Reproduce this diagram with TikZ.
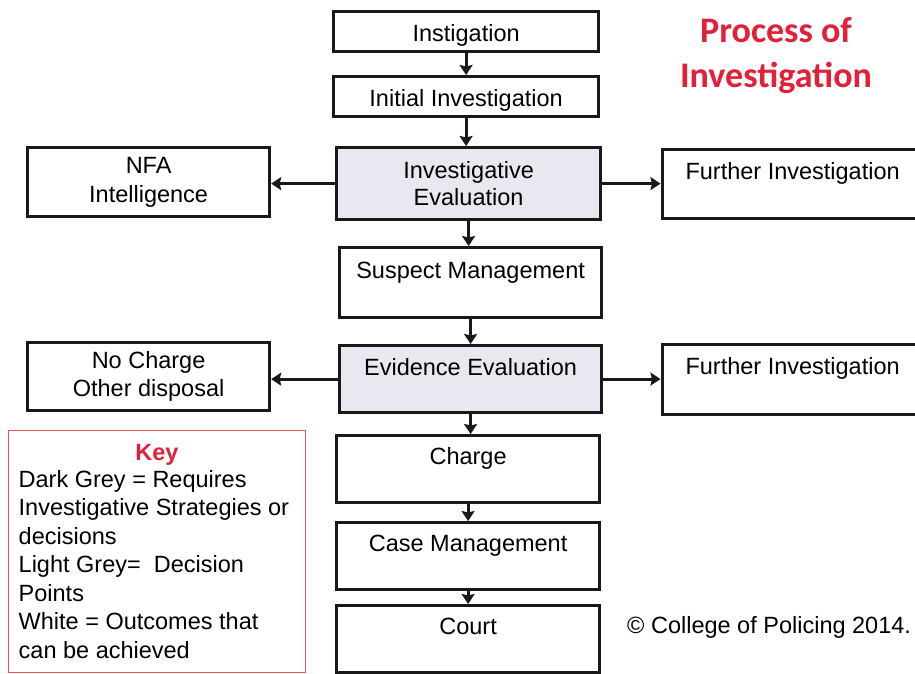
\documentclass[tikz,border=0pt]{standalone}
\usepackage{fontspec}
\setmainfont{Liberation Sans}
\newfontfamily\titlefont{Carlito}
\usetikzlibrary{arrows.meta,shadows}
\definecolor{titlered}{RGB}{226,32,58}
\definecolor{keyred}{RGB}{225,90,90}
\definecolor{lightgrey}{RGB}{233,231,239}
\begin{document}
\begin{tikzpicture}[x=1pt,y=-1pt,
  base/.style={draw=black!90, line width=3.2pt, fill=white, inner sep=0pt, anchor=north west,
     font=\fontsize{23.5}{27}\selectfont,
     drop shadow={shadow xshift=1.5pt, shadow yshift=-1.5pt, fill=black!45, opacity=0.6}},
  grey/.style={fill=lightgrey},
  conn/.style={line width=3pt, draw=black!90, -{Stealth[length=10pt,width=13pt,inset=1.5pt]}},
  txt/.style={font=\fontsize{23.5}{28.5}\selectfont, inner sep=0pt}]
\useasboundingbox (0,0) rectangle (915,673);
\fill[white] (0,0) rectangle (915,673);
\begin{scope}
\clip (0,0) rectangle (915,673);
% main column
\node[base, minimum width=265pt, text height=29.4pt, text depth=10.6pt] (inst) at (332,10) {Instigation};
\node[base, minimum width=265pt, text height=29.4pt, text depth=10.6pt] (init) at (332,75) {Initial Investigation};
\node[base, grey, minimum width=264pt, minimum height=72pt, align=center] (ieval) at (335,146) {Investigative\\Evaluation};
\node[base, minimum width=262pt, text height=30.8pt, text depth=39.2pt] (susp) at (338,246) {Suspect Management};
\node[base, grey, minimum width=262pt, text height=29.4pt, text depth=37.6pt] (evid) at (338,344) {Evidence Evaluation};
\node[base, minimum width=263pt, text height=28.4pt, text depth=38.6pt] (charge) at (335,434) {Charge};
\node[base, minimum width=263pt, text height=29.3pt, text depth=37.3pt] (case) at (335,521) {Case Management};
\node[base, minimum width=263pt, text height=28.4pt, text depth=38.6pt] (court) at (335,604) {Court};
% side boxes
\node[base, minimum width=242pt, minimum height=69pt, align=center, font=\fontsize{23.5}{29}\selectfont] (nfa) at (26,146) {NFA\\Intelligence};
\node[base, minimum width=242pt, minimum height=68pt, align=center, font=\fontsize{23.5}{28}\selectfont] (nocharge) at (26,341) {No Charge\\Other disposal};
\node[base, minimum width=261pt, text height=29.5pt, text depth=39pt] (fi1) at (660.5,148) {Further Investigation};
\node[base, minimum width=261pt, text height=29.5pt, text depth=40.5pt] (fi2) at (660.5,343) {Further Investigation};
% connectors
\draw[conn] (inst.south) -- (inst.south |- init.north);
\draw[conn] (init.south) -- (init.south |- ieval.north);
\draw[conn] (ieval.south) -- (ieval.south |- susp.north);
\draw[conn] (susp.south) -- (susp.south |- evid.north);
\draw[conn] (evid.south) -- (evid.south |- charge.north);
\draw[conn] (charge.south) -- (charge.south |- case.north);
\draw[conn] (case.south) -- (case.south |- court.north);
\draw[conn] (ieval.west) -- (ieval.west -| nfa.east);
\draw[conn] (ieval.east) -- (ieval.east -| fi1.west);
\draw[conn] (evid.west) -- (evid.west -| nocharge.east);
\draw[conn] (evid.east) -- (evid.east -| fi2.west);
% key
\node[draw=keyred, line width=1pt, inner sep=0pt, anchor=north west, minimum width=297pt, minimum height=242pt] (key) at (8,430) {};
\node[txt, anchor=base, text=titlered, font=\fontsize{23.5}{28.5}\selectfont\bfseries] (keytitle) at (157,460) {Key};
\node[txt, anchor=north west, align=left] (keytext) at (18.5,470) {Dark Grey = Requires\\Investigative Strategies or\\decisions\\Light Grey=~~Decision\\Points\\White = Outcomes that\\can be achieved};
% title
\node[anchor=north, align=center, inner sep=0pt, text=titlered, font=\titlefont\bfseries\fontsize{36}{45}\selectfont] (title) at (776,17) {Process of\\Investigation};
% copyright
\node[txt, anchor=base west] (copy) at (627,633) {© College of Policing 2014.};
\end{scope}
\end{tikzpicture}
\end{document}
